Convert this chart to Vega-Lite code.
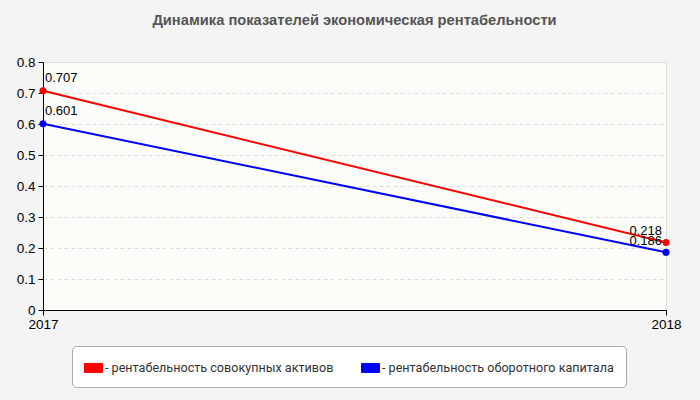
{
  "$schema": "https://vega.github.io/schema/vega-lite/v6.json",
  "width": 623,
  "height": 248,
  "autosize": "none",
  "padding": {"left": 43, "top": 62, "right": 34, "bottom": 90},
  "background": "#f4f4f4",
  "title": {
    "text": "Динамика показателей экономическая рентабельности",
    "font": "Liberation Sans",
    "fontSize": 14.7,
    "fontWeight": "bold",
    "color": "#555555",
    "anchor": "middle",
    "offset": 27
  },
  "data": {
    "values": [
      {"year": "2017", "series": "рентабельность совокупных активов", "value": 0.707},
      {"year": "2018", "series": "рентабельность совокупных активов", "value": 0.218},
      {"year": "2017", "series": "рентабельность оборотного капитала", "value": 0.601},
      {"year": "2018", "series": "рентабельность оборотного капитала", "value": 0.186}
    ]
  },
  "encoding": {
    "x": {
      "field": "year",
      "type": "ordinal",
      "scale": {"type": "point", "padding": 0},
      "axis": {
        "title": null,
        "labelAngle": 0,
        "labelFont": "Liberation Sans",
        "labelFontSize": 13.5,
        "labelColor": "#000000",
        "domainColor": "#000000",
        "tickColor": "#000000",
        "tickSize": 5,
        "labelPadding": 2,
        "grid": false
      }
    },
    "y": {
      "field": "value",
      "type": "quantitative",
      "scale": {"domain": [0, 0.8], "nice": false},
      "axis": {
        "title": null,
        "values": [0, 0.1, 0.2, 0.3, 0.4, 0.5, 0.6, 0.7, 0.8],
        "format": ".1~f",
        "labelFont": "Liberation Sans",
        "labelFontSize": 13.5,
        "labelColor": "#000000",
        "domainColor": "#000000",
        "tickColor": "#000000",
        "tickSize": 5,
        "labelPadding": 3,
        "gridColor": "#dddddd",
        "gridDash": [4, 3]
      }
    },
    "color": {
      "field": "series",
      "type": "nominal",
      "scale": {
        "domain": ["рентабельность совокупных активов", "рентабельность оборотного капитала"],
        "range": ["#ff0000", "#0000ff"]
      },
      "legend": {
        "title": null,
        "orient": "none",
        "legendX": 29,
        "legendY": 284,
        "direction": "horizontal",
        "padding": 12,
        "fillColor": "#ffffff",
        "strokeColor": "#aaaaaa",
        "cornerRadius": 4,
        "symbolType": "M-1,-0.5L1,-0.5L1,0.5L-1,0.5Z",
        "symbolSize": 324,
        "symbolOpacity": 1,
        "columnPadding": 25,
        "labelFont": "Roboto",
        "labelFontSize": 12.6,
        "labelColor": "#333333",
        "labelOffset": 2,
        "labelExpr": "'- ' + datum.label",
        "labelLimit": 300,
        "encode": {
          "symbols": {
            "update": {
              "size": {"value": 324},
              "stroke": {"value": "#999999"},
              "strokeWidth": {"value": 1}
            }
          }
        }
      }
    }
  },
  "layer": [
    {"mark": {"type": "line", "strokeWidth": 2}},
    {"mark": {"type": "circle", "size": 50, "opacity": 1}},
    {
      "transform": [{"filter": "datum.year == '2017'"}],
      "mark": {"type": "text", "align": "left", "baseline": "bottom", "dx": 2, "dy": -6, "font": "Liberation Sans", "fontSize": 13},
      "encoding": {
        "text": {"field": "value", "type": "quantitative", "format": ".3f"},
        "color": {"value": "#000000"}
      }
    },
    {
      "transform": [{"filter": "datum.year == '2018'"}],
      "mark": {"type": "text", "align": "right", "baseline": "bottom", "dx": -4, "dy": -4, "font": "Liberation Sans", "fontSize": 13},
      "encoding": {
        "text": {"field": "value", "type": "quantitative", "format": ".3f"},
        "color": {"value": "#000000"}
      }
    }
  ],
  "config": {
    "view": {"fill": "#fcfcf9", "stroke": "#dddddd"},
    "axis": {"domainWidth": 1}
  }
}
